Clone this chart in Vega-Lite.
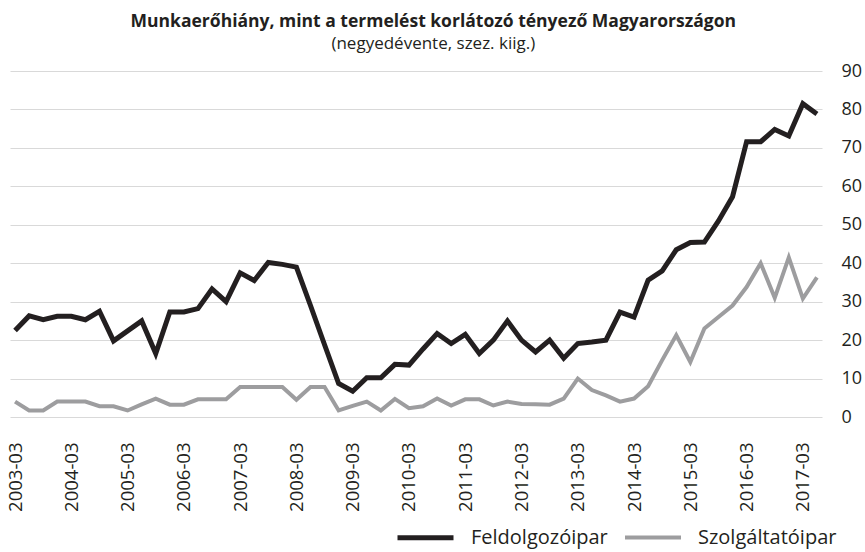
{
  "$schema": "https://vega.github.io/schema/vega-lite/v6.json",
  "width": 812,
  "height": 346,
  "autosize": {"type": "none"},
  "padding": {"left": 10, "top": 71, "right": 43, "bottom": 135},
  "background": "white",
  "title": {
    "text": "Munkaerőhiány, mint a termelést korlátozó tényező Magyarországon",
    "subtitle": "(negyedévente, szez. kiig.)",
    "anchor": "middle",
    "frame": "bounds",
    "font": "Open Sans",
    "fontSize": 17.5,
    "fontWeight": "bold",
    "color": "#231f20",
    "subtitleFont": "Open Sans",
    "subtitleFontSize": 17,
    "subtitleColor": "#231f20",
    "subtitlePadding": 6,
    "offset": 10
  },
  "config": {
    "view": {"stroke": null},
    "font": "Open Sans"
  },
  "datasets": {
    "d": [
      {"q":"2003-03","s":"Feldolgozóipar","v":22.5},{"q":"2003-06","s":"Feldolgozóipar","v":26.3},{"q":"2003-09","s":"Feldolgozóipar","v":25.3},{"q":"2003-12","s":"Feldolgozóipar","v":26.2},
      {"q":"2004-03","s":"Feldolgozóipar","v":26.2},{"q":"2004-06","s":"Feldolgozóipar","v":25.3},{"q":"2004-09","s":"Feldolgozóipar","v":27.5},{"q":"2004-12","s":"Feldolgozóipar","v":19.8},
      {"q":"2005-03","s":"Feldolgozóipar","v":22.4},{"q":"2005-06","s":"Feldolgozóipar","v":25.0},{"q":"2005-09","s":"Feldolgozóipar","v":16.5},{"q":"2005-12","s":"Feldolgozóipar","v":27.3},
      {"q":"2006-03","s":"Feldolgozóipar","v":27.3},{"q":"2006-06","s":"Feldolgozóipar","v":28.2},{"q":"2006-09","s":"Feldolgozóipar","v":33.3},{"q":"2006-12","s":"Feldolgozóipar","v":30.0},
      {"q":"2007-03","s":"Feldolgozóipar","v":37.5},{"q":"2007-06","s":"Feldolgozóipar","v":35.5},{"q":"2007-09","s":"Feldolgozóipar","v":40.2},{"q":"2007-12","s":"Feldolgozóipar","v":39.7},
      {"q":"2008-03","s":"Feldolgozóipar","v":39.0},{"q":"2008-06","s":"Feldolgozóipar","v":29.0},{"q":"2008-09","s":"Feldolgozóipar","v":18.8},{"q":"2008-12","s":"Feldolgozóipar","v":8.7},
      {"q":"2009-03","s":"Feldolgozóipar","v":6.7},{"q":"2009-06","s":"Feldolgozóipar","v":10.2},{"q":"2009-09","s":"Feldolgozóipar","v":10.2},{"q":"2009-12","s":"Feldolgozóipar","v":13.7},
      {"q":"2010-03","s":"Feldolgozóipar","v":13.5},{"q":"2010-06","s":"Feldolgozóipar","v":17.7},{"q":"2010-09","s":"Feldolgozóipar","v":21.7},{"q":"2010-12","s":"Feldolgozóipar","v":19.1},
      {"q":"2011-03","s":"Feldolgozóipar","v":21.5},{"q":"2011-06","s":"Feldolgozóipar","v":16.5},{"q":"2011-09","s":"Feldolgozóipar","v":20.0},{"q":"2011-12","s":"Feldolgozóipar","v":25.0},
      {"q":"2012-03","s":"Feldolgozóipar","v":20.0},{"q":"2012-06","s":"Feldolgozóipar","v":16.9},{"q":"2012-09","s":"Feldolgozóipar","v":20.0},{"q":"2012-12","s":"Feldolgozóipar","v":15.3},
      {"q":"2013-03","s":"Feldolgozóipar","v":19.1},{"q":"2013-06","s":"Feldolgozóipar","v":19.5},{"q":"2013-09","s":"Feldolgozóipar","v":20.0},{"q":"2013-12","s":"Feldolgozóipar","v":27.3},
      {"q":"2014-03","s":"Feldolgozóipar","v":26.0},{"q":"2014-06","s":"Feldolgozóipar","v":35.6},{"q":"2014-09","s":"Feldolgozóipar","v":38.0},{"q":"2014-12","s":"Feldolgozóipar","v":43.5},
      {"q":"2015-03","s":"Feldolgozóipar","v":45.4},{"q":"2015-06","s":"Feldolgozóipar","v":45.5},{"q":"2015-09","s":"Feldolgozóipar","v":51.0},{"q":"2015-12","s":"Feldolgozóipar","v":57.3},
      {"q":"2016-03","s":"Feldolgozóipar","v":71.6},{"q":"2016-06","s":"Feldolgozóipar","v":71.6},{"q":"2016-09","s":"Feldolgozóipar","v":74.8},{"q":"2016-12","s":"Feldolgozóipar","v":73.1},
      {"q":"2017-03","s":"Feldolgozóipar","v":81.5},{"q":"2017-06","s":"Feldolgozóipar","v":78.8},
      {"q":"2003-03","s":"Szolgáltatóipar","v":4.0},{"q":"2003-06","s":"Szolgáltatóipar","v":1.7},{"q":"2003-09","s":"Szolgáltatóipar","v":1.7},{"q":"2003-12","s":"Szolgáltatóipar","v":4.0},
      {"q":"2004-03","s":"Szolgáltatóipar","v":4.0},{"q":"2004-06","s":"Szolgáltatóipar","v":4.0},{"q":"2004-09","s":"Szolgáltatóipar","v":2.8},{"q":"2004-12","s":"Szolgáltatóipar","v":2.8},
      {"q":"2005-03","s":"Szolgáltatóipar","v":1.7},{"q":"2005-06","s":"Szolgáltatóipar","v":3.3},{"q":"2005-09","s":"Szolgáltatóipar","v":4.8},{"q":"2005-12","s":"Szolgáltatóipar","v":3.2},
      {"q":"2006-03","s":"Szolgáltatóipar","v":3.2},{"q":"2006-06","s":"Szolgáltatóipar","v":4.6},{"q":"2006-09","s":"Szolgáltatóipar","v":4.6},{"q":"2006-12","s":"Szolgáltatóipar","v":4.6},
      {"q":"2007-03","s":"Szolgáltatóipar","v":7.8},{"q":"2007-06","s":"Szolgáltatóipar","v":7.8},{"q":"2007-09","s":"Szolgáltatóipar","v":7.8},{"q":"2007-12","s":"Szolgáltatóipar","v":7.8},
      {"q":"2008-03","s":"Szolgáltatóipar","v":4.5},{"q":"2008-06","s":"Szolgáltatóipar","v":7.8},{"q":"2008-09","s":"Szolgáltatóipar","v":7.8},{"q":"2008-12","s":"Szolgáltatóipar","v":1.7},
      {"q":"2009-03","s":"Szolgáltatóipar","v":2.9},{"q":"2009-06","s":"Szolgáltatóipar","v":4.0},{"q":"2009-09","s":"Szolgáltatóipar","v":1.7},{"q":"2009-12","s":"Szolgáltatóipar","v":4.7},
      {"q":"2010-03","s":"Szolgáltatóipar","v":2.3},{"q":"2010-06","s":"Szolgáltatóipar","v":2.8},{"q":"2010-09","s":"Szolgáltatóipar","v":4.8},{"q":"2010-12","s":"Szolgáltatóipar","v":3.0},
      {"q":"2011-03","s":"Szolgáltatóipar","v":4.6},{"q":"2011-06","s":"Szolgáltatóipar","v":4.6},{"q":"2011-09","s":"Szolgáltatóipar","v":3.0},{"q":"2011-12","s":"Szolgáltatóipar","v":4.0},
      {"q":"2012-03","s":"Szolgáltatóipar","v":3.4},{"q":"2012-06","s":"Szolgáltatóipar","v":3.3},{"q":"2012-09","s":"Szolgáltatóipar","v":3.2},{"q":"2012-12","s":"Szolgáltatóipar","v":4.8},
      {"q":"2013-03","s":"Szolgáltatóipar","v":10.0},{"q":"2013-06","s":"Szolgáltatóipar","v":7.0},{"q":"2013-09","s":"Szolgáltatóipar","v":5.6},{"q":"2013-12","s":"Szolgáltatóipar","v":4.0},
      {"q":"2014-03","s":"Szolgáltatóipar","v":4.8},{"q":"2014-06","s":"Szolgáltatóipar","v":8.0},{"q":"2014-09","s":"Szolgáltatóipar","v":14.8},{"q":"2014-12","s":"Szolgáltatóipar","v":21.3},
      {"q":"2015-03","s":"Szolgáltatóipar","v":14.3},{"q":"2015-06","s":"Szolgáltatóipar","v":23.0},{"q":"2015-09","s":"Szolgáltatóipar","v":26.0},{"q":"2015-12","s":"Szolgáltatóipar","v":29.0},
      {"q":"2016-03","s":"Szolgáltatóipar","v":33.8},{"q":"2016-06","s":"Szolgáltatóipar","v":40.0},{"q":"2016-09","s":"Szolgáltatóipar","v":31.0},{"q":"2016-12","s":"Szolgáltatóipar","v":41.5},
      {"q":"2017-03","s":"Szolgáltatóipar","v":30.8},{"q":"2017-06","s":"Szolgáltatóipar","v":36.3}
    ]
  },
  "data": {"name": "d"},
  "mark": {"type": "line", "strokeJoin": "miter", "strokeCap": "butt"},
  "encoding": {
    "x": {
      "field": "q",
      "type": "ordinal",
      "sort": null,
      "scale": {"type": "point", "padding": 0.36},
      "axis": {
        "title": null,
        "values": ["2003-03","2004-03","2005-03","2006-03","2007-03","2008-03","2009-03","2010-03","2011-03","2012-03","2013-03","2014-03","2015-03","2016-03","2017-03"],
        "labelAngle": -90,
        "labelFont": "Open Sans",
        "labelFontSize": 18.5,
        "labelColor": "#231f20",
        "labelPadding": 25,
        "ticks": false,
        "domain": false,
        "grid": false
      }
    },
    "y": {
      "field": "v",
      "type": "quantitative",
      "scale": {"domain": [0, 90]},
      "axis": {
        "orient": "right",
        "title": null,
        "values": [0,10,20,30,40,50,60,70,80,90],
        "labelFont": "Open Sans",
        "labelFontSize": 18,
        "labelColor": "#231f20",
        "labelPadding": 19,
        "ticks": false,
        "domain": false,
        "grid": true,
        "gridColor": "#d9d9d9",
        "gridWidth": 1.2
      }
    },
    "strokeWidth": {
      "field": "s",
      "type": "nominal",
      "scale": {"domain": ["Feldolgozóipar","Szolgáltatóipar"], "range": [5, 4]},
      "legend": null
    },
    "color": {
      "field": "s",
      "type": "nominal",
      "scale": {"domain": ["Feldolgozóipar","Szolgáltatóipar"], "range": ["#231f20","#9d9d9f"]},
      "legend": {
        "title": null,
        "orient": "none",
        "direction": "horizontal",
        "legendX": 385,
        "legendY": 436,
        "padding": 0,
        "symbolType": "stroke",
        "symbolSize": 3136,
        "symbolStrokeWidth": 6,
        "labelFont": "Open Sans",
        "labelFontSize": 20,
        "labelColor": "#231f20",
        "labelOffset": 15,
        "columnPadding": 9
      }
    }
  }
}
